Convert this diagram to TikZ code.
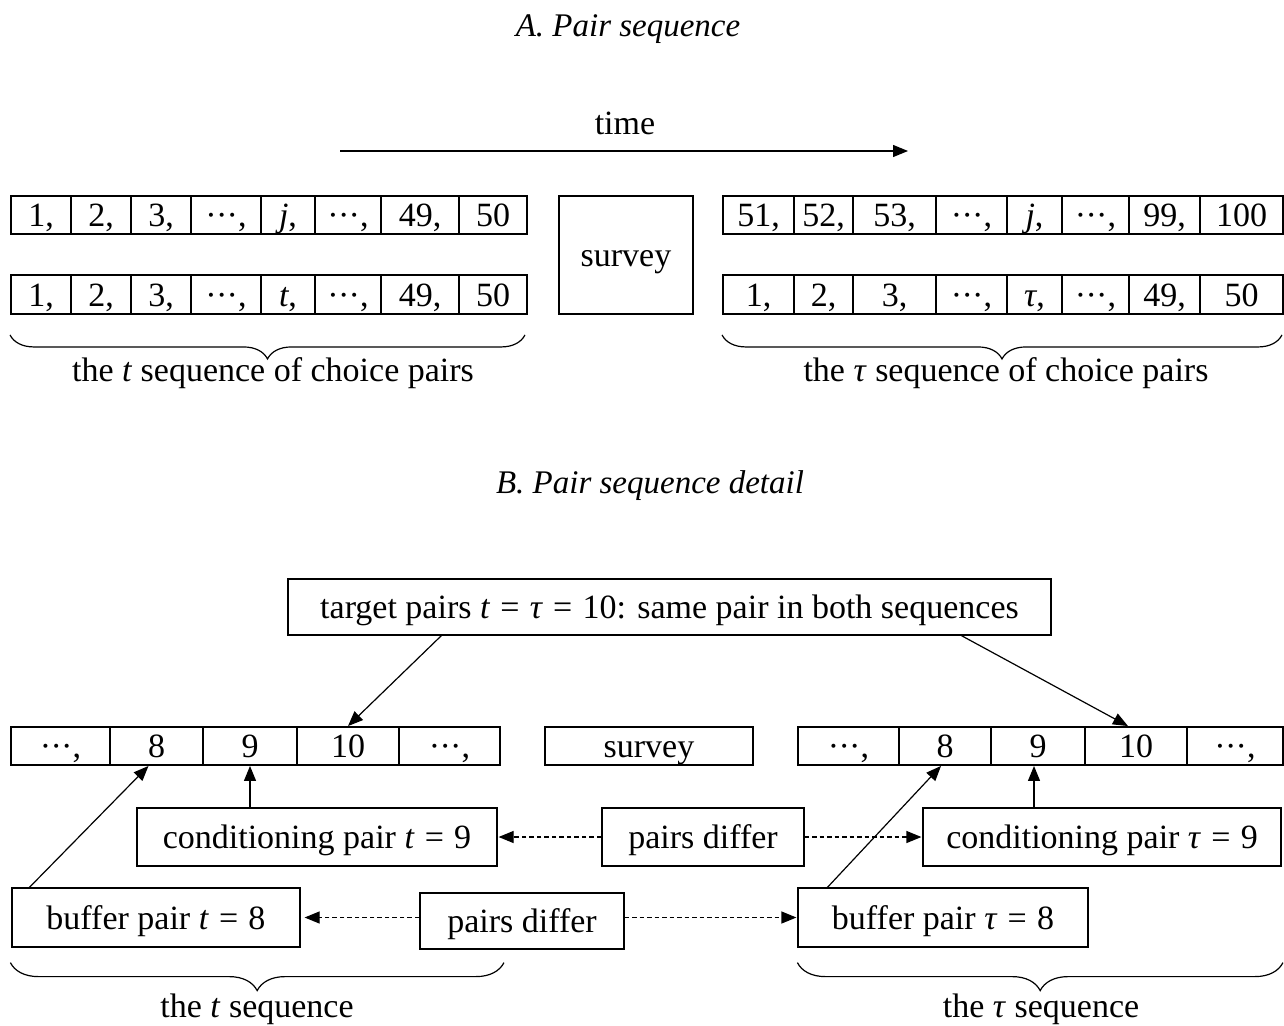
\documentclass[tikz,border=0pt]{standalone}
\usepackage{fontspec}
\setmainfont{Liberation Serif}
\usetikzlibrary{arrows.meta,calc,decorations.pathreplacing}
\newcommand\mybox[7]{%
  \node[#1, minimum width={(#4-#3)*1pt}, minimum height={(#6-#5)*1pt}] (#2) at ({(#3+#4)/2},{(#5+#6)/2}) {#7};}
\newcommand\mydots{·\kern-0.02em·\kern-0.02em·}
\newcommand\eq{\hspace{0.3em}=\hspace{0.3em}}
\begin{document}
\begin{tikzpicture}[x=1pt,y=-1pt,
  every node/.style={font=\fontsize{34}{40}\selectfont, text height=23pt, text depth=0pt, inner sep=0pt},
  cell/.style={draw, line width=1.9pt},
  box/.style={draw, line width=1.2pt},
  arr/.style={line width=1.2pt, -{Triangle[length=15pt,width=12pt]}},
  darr/.style={arr, dash pattern=on 4.5pt off 3pt},
  brc/.style={decorate, decoration={brace, mirror, amplitude=#1}, line width=1.2pt},
  ttl/.style={font=\fontsize{33}{40}\selectfont\itshape}
]
\useasboundingbox (0,0) rectangle (1284,1025);

% ---------- Panel A ----------
\node[ttl] (titleA) at (628,25) {A. Pair sequence};
\node (time) at (625,123) {time};
\coordinate (ts) at (340,151);
\coordinate (te) at (908,151);
\draw[arr] (ts) -- (te);

\foreach \a/\b/\t [count=\i] in {11/71/{1,},71/131/{2,},131/191/{3,},191/261/{\mydots,},261/315/{\textit{j},},315/381/{\mydots,},381/459/{49,},459/527/{50}}
  {\mybox{cell}{aa\i}{\a}{\b}{196}{234}{\t}}
\foreach \a/\b/\t [count=\i] in {11/71/{1,},71/131/{2,},131/191/{3,},191/261/{\mydots,},261/315/{\textit{t},},315/381/{\mydots,},381/459/{49,},459/527/{50}}
  {\mybox{cell}{ab\i}{\a}{\b}{275}{314}{\t}}
\mybox{cell}{survA}{559}{693}{196}{314}{survey}
\foreach \a/\b/\t [count=\i] in {723/794/{51,},794/853/{52,},853/936/{53,},936/1007/{\mydots,},1007/1062/{\textit{j},},1062/1129/{\mydots,},1129/1200/{99,},1200/1283/{100}}
  {\mybox{cell}{ra\i}{\a}{\b}{196}{234}{\t}}
\foreach \a/\b/\t [count=\i] in {723/794/{1,},794/853/{2,},853/936/{3,},936/1007/{\mydots,},1007/1062/{\textit{τ},},1062/1129/{\mydots,},1129/1200/{49,},1200/1283/{50}}
  {\mybox{cell}{rb\i}{\a}{\b}{275}{314}{\t}}

\draw[brc=24pt] ($(ab1.south west)+(0,20)$) -- ($(ab8.south east)+(-3,20)$);
\draw[brc=24pt] ($(rb1.south west)+(0,20)$) -- ($(rb8.south east)+(-2,20)$);
\node (lblA1) at (273,370) {the \textit{t} sequence of choice pairs};
\node (lblA2) at (1006,370) {the \textit{τ} sequence of choice pairs};

% ---------- Panel B ----------
\node[ttl] (titleB) at (650,482) {B. Pair sequence detail};
\mybox{box}{tgt}{288}{1051}{579}{635}{target pairs \textit{t}\eq\textit{τ}\eq10: same pair in both sequences}

\foreach \a/\b/\t [count=\i] in {11/110/{\mydots,},110/203/{8},203/297/{9},297/399/{10},399/500/{\mydots,}}
  {\mybox{cell}{bl\i}{\a}{\b}{727}{765}{\t}}
\mybox{cell}{survB}{545}{753}{727}{765}{survey}
\foreach \a/\b/\t [count=\i] in {798/899/{\mydots,},899/991/{8},991/1085/{9},1085/1187/{10},1187/1283/{\mydots,}}
  {\mybox{cell}{br\i}{\a}{\b}{727}{765}{\t}}

\mybox{box}{condT}{137}{497}{808}{866}{conditioning pair \textit{t}\eq9}
\mybox{box}{pd1}{602}{804}{808}{866}{pairs differ}
\mybox{box}{condTau}{923}{1281}{808}{866}{conditioning pair \textit{τ}\eq9}
\mybox{box}{bufT}{12}{300}{888}{947}{buffer pair \textit{t}\eq8}
\mybox{box}{pd2}{420}{624}{893}{949}{pairs differ}
\mybox{box}{bufTau}{798}{1088}{888}{947}{buffer pair \textit{τ}\eq8}

\draw[arr] ($(tgt.south west)+(154,0)$) -- (bl4.north);
\draw[arr] ($(tgt.south west)+(674,0)$) -- ($(br4.north)+(-8,0)$);
\draw[arr] (condT.north -| bl3.south) -- (bl3.south);
\draw[arr] ($(condTau.north -| br3.south)+(-4,0)$) -- ($(br3.south)+(-4,0)$);
\draw[arr] ($(bufT.north west)+(18,0)$) -- ($(bl2.south)+(-8,0)$);
\draw[arr] ($(bufTau.north west)+(30,0)$) -- ($(br2.south)+(-4,0)$);

\draw[darr, shorten >=1pt] (pd1.west) -- (condT.east);
\draw[darr, shorten >=1pt] (pd1.east) -- (condTau.west);
\draw[darr, shorten >=4pt] (pd2.west |- bufT.east) -- (bufT.east);
\draw[darr, shorten >=1pt] (pd2.east |- bufTau.west) -- (bufTau.west);

\draw[brc=28pt] ($(bufT.south west)+(-1,15)$) -- ($(bufT.south west -| bl5.south east)+(3,15)$);
\draw[brc=28pt] ($(bufTau.south west)+(0,15)$) -- ($(bufTau.south west -| br5.south east)+(-1,15)$);
\node (lblB1) at (257,1006) {the \textit{t} sequence};
\node (lblB2) at (1041,1006) {the \textit{τ} sequence};
\end{tikzpicture}
\end{document}
